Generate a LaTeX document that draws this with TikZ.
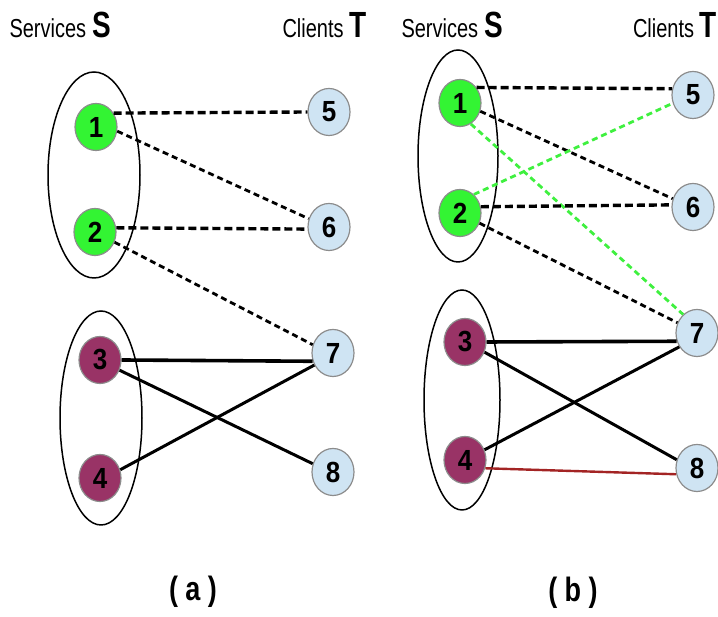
\documentclass[tikz,border=0pt]{standalone}
\usepackage{fontspec}
\setmainfont{Liberation Sans}
\usepackage{tikz}
\usetikzlibrary{arrows.meta, calc, positioning}
\definecolor{srvgreen}{HTML}{33F433}
\definecolor{srvplum}{HTML}{993366}
\definecolor{cltblue}{HTML}{CFE4F3}
\definecolor{rimgray}{HTML}{8C8C8C}
\definecolor{linkgreen}{HTML}{3FF03F}
\definecolor{linkred}{HTML}{A32424}

\tikzset{
  vert/.style={circle, minimum size=42pt, inner sep=0pt, yscale=1.12,
    draw=rimgray, line width=1.2pt, font=\fontsize{26}{28}\selectfont\bfseries},
  srvA/.style={vert, fill=srvgreen},
  srvB/.style={vert, fill=srvplum},
  clt/.style={vert, fill=cltblue},
  hdash/.style={line width=3.4pt, dash pattern=on 8pt off 4pt},
  ddash/.style={line width=2.8pt, dash pattern=on 6pt off 4pt},
  gdash/.style={ddash, draw=linkgreen},
  link/.style={line width=3pt},
  grp/.style={line width=1.5pt},
  head/.style={anchor=west, yscale=1.3, font=\fontsize{20}{22}\selectfont},
  capt/.style={yscale=1.25, font=\fontsize{27}{29}\selectfont\bfseries}
}

\begin{document}
\begin{tikzpicture}[x=1pt,y=1pt]
    \useasboundingbox (0,0) rectangle (718,617);
    % panel (a)
    \node[head] (sa) at (6,592) {Services\hspace{6pt}\textbf{\fontsize{28}{30}\selectfont S}};
    \node[head] (ta) at (279,592) {Clients \textbf{\fontsize{28}{30}\selectfont T}};
    \draw[grp] (94,442) ellipse [x radius=46, y radius=103];
    \draw[grp] (101,199) ellipse [x radius=41, y radius=107];
    \node[srvA] (a1) at (96,490) {1};
    \node[srvA] (a2) at (95,385) {2};
    \node[srvB] (a3) at (100,257) {3};
    \node[srvB] (a4) at (100,139) {4};
    \node[clt] (a5) at (329,505) {5};
    \node[clt] (a6) at (329,390) {6};
    \node[clt] (a7) at (333,264) {7};
    \node[clt] (a8) at (333,145) {8};
    \draw[hdash] (a1.35) -- (a5.west);
    \draw[ddash] (a1.-10) -- (a6.160);
    \draw[hdash] (a2.10) -- (a6.185);
    \draw[ddash] (a2.-25) -- (a7.160);
    \draw[link, line width=3.6pt] (a3.east) -- (a7.200);
    \draw[link] (a3.-25) -- (a8.160);
    \draw[link] (a4.20) -- (a7.210);
    \node[capt] (capa) at (193,25) {( a )};
    % panel (b)
    \node[head] (sb) at (398,592) {Services\hspace{6pt}\textbf{\fontsize{28}{30}\selectfont S}};
    \node[head, anchor=east, inner xsep=1pt] (tb) at (718,592) {Clients \textbf{\fontsize{28}{30}\selectfont T}};
    \draw[grp] (458,461) ellipse [x radius=40, y radius=106];
    \draw[grp] (462,217) ellipse [x radius=38, y radius=110];
    \node[srvA] (b1) at (460,514) {1};
    \node[srvA] (b2) at (460,404) {2};
    \node[srvB] (b3) at (465,275) {3};
    \node[srvB] (b4) at (465,157) {4};
    \node[clt] (b5) at (693,522) {5};
    \node[clt] (b6) at (693,410) {6};
    \node[clt] (b7) at (697,284) {7};
    \node[clt] (b8) at (697,149) {8};
    \draw[hdash] (b1.40) -- (b5.165);
    \draw[ddash] (b1.-20) -- (b6.160);
    \draw[gdash] (b1.-60) -- (b7.130);
    \draw[gdash] (b2.50) -- (b5.200);
    \draw[hdash] (b2.15) -- (b6.175);
    \draw[ddash] (b2.-25) -- (b7.155);
    \draw[link, line width=3.6pt] (b3.east) -- (b7.200);
    \draw[link] (b3.-25) -- (b8.160);
    \draw[link] (b4.25) -- (b7.215);
    \draw[link, draw=linkred, line width=2.4pt] (b4.-20) -- (b8.195);
    \node[capt] (capb) at (573,24) {( b )};
\end{tikzpicture}
\end{document}
